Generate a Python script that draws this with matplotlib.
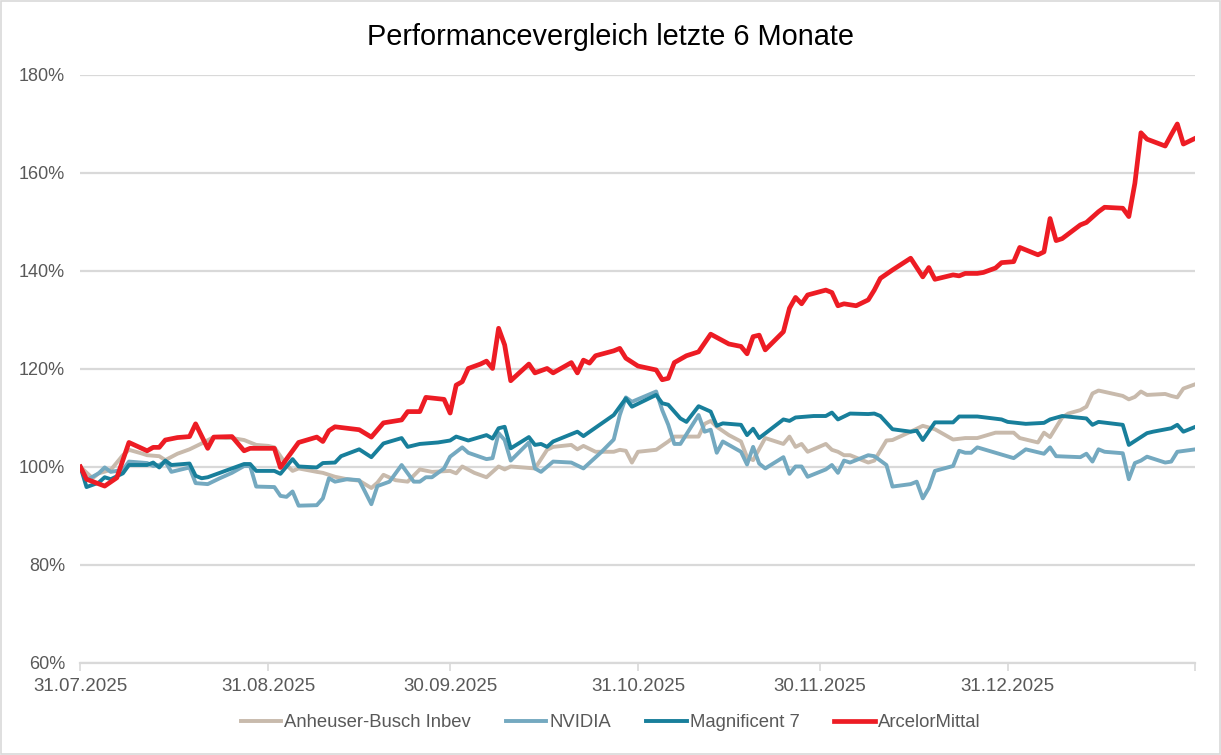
import matplotlib
matplotlib.use("Agg")
import matplotlib.pyplot as plt
from matplotlib.ticker import FuncFormatter
import pandas as pd

# Daten: (Kalendertage seit 31.07.2025, Performance in %)
start = pd.Timestamp("2025-07-31")
end = pd.Timestamp("2026-01-31")

anheuser = [(0,100),(2,97.7),(3,98.7),(5,99.4),(6,100.9),(7,102.4),(8,103.5),(10,102.8),(11,102.4),(13,102.2),(14,101.4),(16,102.7),(18,103.6),(20,104.8),(22,106.1),(24,105.9),(25,105.9),(27,105.5),(29,104.5),(31,104.3),(32,104.0),(34,100.4),(35,99.2),(36,99.7),(39,99.0),(40,98.8),(42,98.0),(44,97.5),(46,97.2),(48,95.7),(49,96.8),(50,98.4),(52,97.3),(54,97.0),(56,99.5),(58,99.0),(61,99.2),(62,98.7),(63,100.1),(65,98.8),(67,97.9),(69,100.1),(70,99.5),(71,100.1),(74,99.8),(75,99.7),(77,103.5),(78,104.1),(81,104.5),(82,103.6),(83,104.3),(85,103.1),(88,103.1),(89,103.5),(90,103.3),(91,100.9),(92,103.1),(95,103.5),(97,105.2),(98,106.2),(102,106.2),(103,108.8),(104,109.4),(105,108.2),(107,106.5),(109,105.2),(110,102.0),(111,101.4),(113,105.9),(116,104.7),(117,106.2),(118,104.1),(119,104.7),(120,103.1),(123,104.7),(124,103.5),(125,103.1),(126,102.4),(127,102.4),(130,100.9),(131,101.3),(133,105.4),(134,105.5),(137,107.2),(139,108.4),(141,107.7),(144,105.6),(146,105.9),(148,105.9),(151,107.0),(154,107.0),(155,105.9),(158,105.0),(159,107.0),(160,106.1),(162,110.1),(163,110.9),(165,111.6),(166,112.3),(167,115.0),(168,115.6),(172,114.5),(173,113.8),(174,114.3),(175,115.4),(176,114.7),(179,114.9),(180,114.5),(181,114.2),(182,116.0),(184,116.9)]

nvidia = [(0,100),(1,97.3),(3,98.7),(4,99.9),(5,99.0),(7,99.4),(8,101.1),(11,100.8),(12,100.2),(13,100.4),(14,101.1),(15,99.0),(18,99.9),(19,96.7),(21,96.5),(23,97.7),(25,98.8),(27,100.2),(28,100.2),(29,96.0),(32,95.9),(33,94.1),(34,93.9),(35,95.0),(36,92.1),(39,92.2),(40,93.6),(41,97.7),(42,97.0),(44,97.5),(46,97.3),(48,92.4),(49,96.1),(51,97.0),(53,100.4),(55,97.0),(56,97.0),(57,97.9),(58,97.9),(60,99.7),(61,102.1),(63,104.0),(64,102.9),(67,101.6),(68,101.8),(69,106.9),(70,105.5),(71,101.3),(74,105.0),(75,99.7),(76,99.0),(78,101.1),(81,100.9),(83,99.7),(86,103.1),(88,105.6),(89,110.6),(90,114.2),(91,113.3),(95,115.4),(96,111.6),(97,108.6),(98,104.7),(99,104.7),(102,110.6),(103,107.2),(104,107.6),(105,102.9),(106,105.2),(109,103.1),(110,100.5),(111,104.1),(112,100.7),(113,99.7),(116,102.0),(117,98.6),(118,100.1),(119,100.1),(120,98.0),(123,99.5),(124,100.4),(125,98.8),(126,101.3),(127,100.9),(130,102.4),(131,102.2),(133,100.4),(134,96.0),(137,96.5),(138,97.0),(139,93.6),(140,95.7),(141,99.2),(144,100.2),(145,103.3),(146,102.9),(147,102.9),(148,104.0),(154,101.8),(156,103.6),(159,102.7),(160,104.0),(161,102.2),(165,102.0),(166,102.7),(167,101.1),(168,103.6),(169,103.1),(172,102.8),(173,97.5),(174,100.8),(175,101.3),(176,102.1),(179,100.9),(180,101.1),(181,103.1),(184,103.6)]

magnificent7 = [(0,100),(1,95.9),(3,96.8),(4,97.9),(5,97.5),(7,98.7),(8,100.4),(11,100.4),(12,100.9),(13,99.9),(14,101.3),(15,100.4),(18,100.7),(19,98.2),(20,97.7),(21,97.9),(23,98.8),(25,99.7),(27,100.6),(28,100.6),(29,99.2),(32,99.2),(33,98.6),(35,101.6),(36,100.1),(39,99.9),(40,100.8),(42,100.9),(43,102.2),(46,103.6),(48,102.0),(50,104.8),(53,105.9),(54,104.1),(56,104.7),(59,105.0),(61,105.4),(62,106.2),(64,105.4),(67,106.5),(68,105.8),(69,107.9),(70,108.2),(71,103.8),(74,106.1),(75,104.5),(76,104.7),(77,104.1),(78,105.2),(82,107.2),(83,106.3),(88,110.6),(90,114.0),(91,112.3),(95,114.7),(96,113.0),(97,112.7),(99,109.9),(100,109.2),(102,112.4),(104,111.3),(105,108.4),(106,108.9),(109,108.6),(110,106.5),(111,107.8),(112,105.9),(116,109.7),(117,109.4),(118,110.1),(121,110.4),(123,110.4),(124,111.1),(125,109.7),(127,110.9),(130,110.8),(131,110.9),(132,110.4),(134,107.7),(137,107.2),(138,107.4),(139,105.5),(141,109.1),(144,109.1),(145,110.3),(148,110.3),(152,109.7),(153,109.2),(156,108.8),(159,109.0),(160,109.7),(162,110.4),(166,109.9),(167,108.6),(168,109.2),(172,108.6),(173,104.5),(176,106.9),(177,107.2),(180,107.9),(181,108.6),(182,107.2),(184,108.2)]

arcelor = [(0,100),(1,97.5),(4,96.1),(6,97.8),(8,105.0),(11,103.3),(12,104.0),(13,104.0),(14,105.5),(16,106.0),(18,106.2),(19,108.8),(21,103.8),(22,106.1),(25,106.2),(27,103.3),(28,103.8),(32,103.8),(33,99.9),(36,105.0),(39,106.1),(40,105.2),(41,107.4),(42,108.2),(44,107.9),(46,107.6),(48,106.1),(50,109.0),(53,109.6),(54,111.3),(56,111.3),(57,114.2),(60,113.8),(61,111.0),(62,116.7),(63,117.4),(64,120.1),(66,121.0),(67,121.6),(68,120.1),(69,128.3),(70,124.9),(71,117.6),(74,121.0),(75,119.2),(77,120.1),(78,119.2),(81,121.3),(82,119.2),(83,121.8),(84,121.2),(85,122.7),(88,123.7),(89,124.2),(90,122.2),(92,120.6),(95,119.8),(96,117.8),(97,118.1),(98,121.3),(100,122.7),(102,123.5),(104,127.1),(107,125.1),(109,124.6),(110,123.1),(111,126.6),(112,126.9),(113,123.9),(116,127.6),(117,132.4),(118,134.6),(119,133.3),(120,135.1),(123,136.1),(124,135.6),(125,132.9),(126,133.3),(128,132.9),(130,134.1),(131,136.1),(132,138.5),(134,140.2),(137,142.6),(139,138.8),(140,140.7),(141,138.3),(144,139.2),(145,139.0),(146,139.5),(148,139.5),(149,139.7),(151,140.6),(152,141.7),(154,141.9),(155,144.8),(158,143.3),(159,143.9),(160,150.7),(161,146.2),(162,146.6),(165,149.4),(166,149.9),(168,152.1),(169,153.0),(172,152.8),(173,151.1),(174,157.9),(175,168.2),(176,166.9),(179,165.5),(180,167.8),(181,170.0),(182,165.9),(184,167.1)]

series = [
    ("Anheuser-Busch Inbev", anheuser, "#c8baac", 2.8),
    ("NVIDIA", nvidia, "#74a9c0", 2.8),
    ("Magnificent 7", magnificent7, "#187f9b", 2.8),
    ("ArcelorMittal", arcelor, "#ed1c24", 3.4),
]

month_ticks = ["2025-07-31", "2025-08-31", "2025-09-30", "2025-10-31",
               "2025-11-30", "2025-12-31", "2026-01-31"]
y_ticks = [60, 80, 100, 120, 140, 160, 180]

plt.rcParams["font.family"] = ["Liberation Sans", "DejaVu Sans"]

fig = plt.figure(figsize=(12.21, 7.55), dpi=100)
ax = fig.add_axes([0.0659, 0.1219, 0.9132, 0.7788])

for name, pts, color, lw in series:
    dates = [start + pd.Timedelta(days=d) for d, v in pts]
    vals = [v for d, v in pts]
    ax.plot(dates, vals, color=color, lw=lw, label=name, solid_joinstyle="round")

ax.set_xlim(start, end)
ax.set_ylim(60, 180)
ax.set_yticks(y_ticks)
ax.yaxis.set_major_formatter(FuncFormatter(lambda v, p: f"{v:.0f}%"))
ax.grid(axis="y", color="#d9d9d9", lw=1.6)
ax.set_axisbelow(True)

ticks = [pd.Timestamp(t) for t in month_ticks]
ax.set_xticks(ticks)
ax.set_xticklabels([t.strftime("%d.%m.%Y") for t in ticks[:-1]] + [""])

for s in ["top", "right", "left"]:
    ax.spines[s].set_visible(False)
ax.spines["bottom"].set_color("#d9d9d9")
ax.spines["bottom"].set_linewidth(1.6)
ax.tick_params(axis="x", length=6, width=1.2, color="#d9d9d9", labelsize=13.5,
               labelcolor="#595959", pad=5)
ax.tick_params(axis="y", length=0, labelsize=13, labelcolor="#595959", pad=11)

fig.suptitle("Performancevergleich letzte 6 Monate", y=0.97, fontsize=20.8, color="#000000")

fig.legend(loc="center", bbox_to_anchor=(0.5, 0.043), ncol=4, frameon=False,
           fontsize=13.3, handlelength=2.2, handletextpad=0.15, columnspacing=1.9,
           labelcolor="#595959")

fig.patches.append(plt.Rectangle((0.001, 0.001), 0.998, 0.998, transform=fig.transFigure,
                                 fill=False, edgecolor="#d9d9d9", lw=1.2))

fig.savefig("out.png", dpi=100)
